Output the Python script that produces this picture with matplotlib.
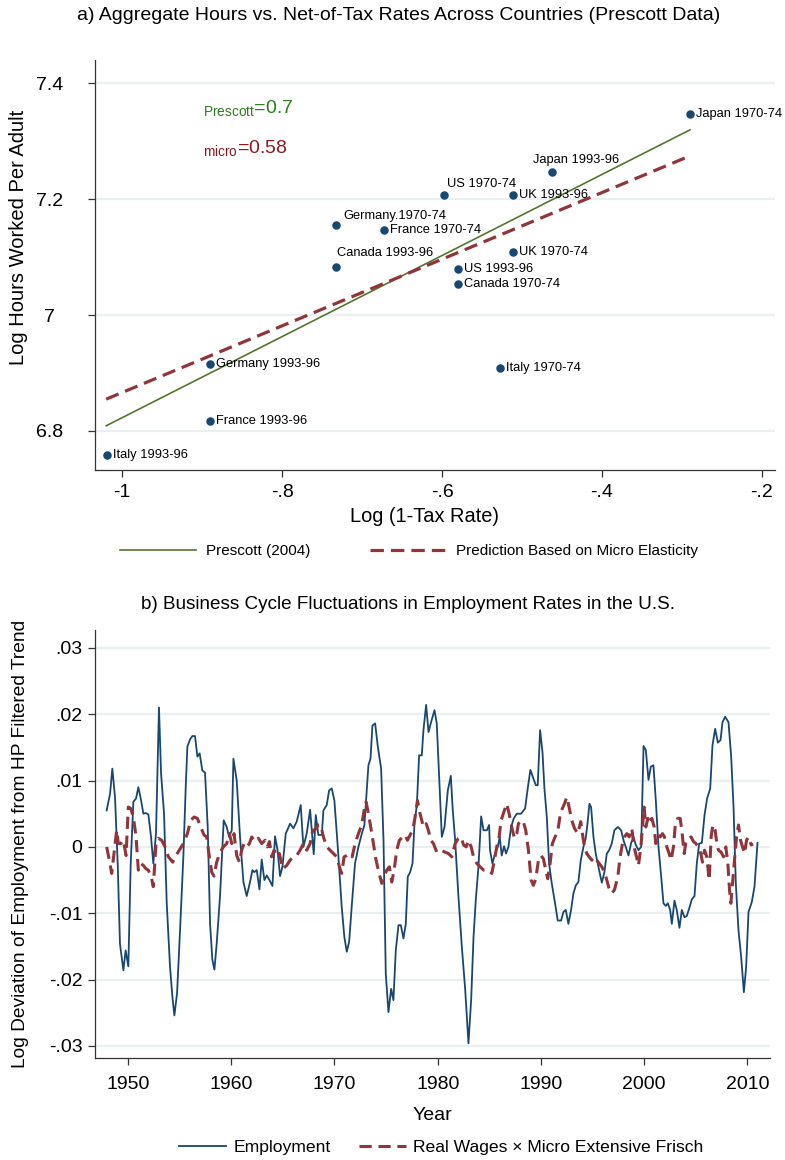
import matplotlib
matplotlib.use("Agg")
import matplotlib.pyplot as plt
import matplotlib.ticker as ticker

plt.rcParams["font.family"] = ["Liberation Sans", "DejaVu Sans"]

# ---- panel a: countries ----
country_labels = [
    "Japan 1970-74", "Japan 1993-96", "US 1970-74", "UK 1993-96",
    "Germany.1970-74", "France 1970-74", "Canada 1993-96", "UK 1970-74",
    "US 1993-96", "Canada 1970-74", "Germany 1993-96", "Italy 1970-74",
    "France 1993-96", "Italy 1993-96",
]
log_net_tax = [-0.290, -0.4625, -0.5975, -0.511, -0.7325, -0.6725, -0.7325,
               -0.511, -0.580, -0.580, -0.890, -0.5275, -0.890, -1.019]
log_hours = [7.347, 7.248, 7.207, 7.207, 7.156, 7.147, 7.084,
             7.109, 7.080, 7.053, 6.915, 6.908, 6.817, 6.759]

prescott_x = [-1.02, -0.29]
prescott_y = [6.809, 7.320]
micro_x = [-1.02, -0.29]
micro_y = [6.855, 7.275]

# ---- panel b: business cycle ----
emp_year = [
    1947.93, 1948.26, 1948.48, 1948.74, 1949.00, 1949.22, 1949.55, 1949.77, 1950.03, 1950.26,
    1950.52, 1950.78, 1951.00, 1951.23, 1951.49, 1951.71, 1951.97, 1952.23, 1952.45, 1952.71,
    1953.00, 1953.20, 1953.49, 1953.75, 1954.07, 1954.30, 1954.49, 1954.75, 1955.04, 1955.36,
    1955.59, 1955.75, 1956.01, 1956.23, 1956.49, 1956.72, 1956.94, 1957.20, 1957.46, 1957.72,
    1957.95, 1958.17, 1958.37, 1958.59, 1958.91, 1959.27, 1959.56, 1959.79, 1960.05, 1960.21,
    1960.53, 1960.85, 1961.18, 1961.50, 1961.82, 1962.05, 1962.24, 1962.47, 1962.73, 1962.95,
    1963.21, 1963.44, 1963.70, 1963.99, 1964.24, 1964.47, 1964.73, 1964.96, 1965.28, 1965.70,
    1966.02, 1966.34, 1966.73, 1966.99, 1967.31, 1967.64, 1967.86, 1967.99, 1968.19, 1968.44,
    1968.77, 1968.93, 1969.25, 1969.48, 1969.74, 1969.99, 1970.32, 1970.70, 1970.96, 1971.19,
    1971.42, 1971.67, 1971.99, 1972.32, 1972.65, 1972.90, 1973.13, 1973.29, 1973.49, 1973.68,
    1973.94, 1974.20, 1974.52, 1974.75, 1974.97, 1975.23, 1975.49, 1975.71, 1975.94, 1976.20,
    1976.43, 1976.68, 1976.91, 1977.10, 1977.33, 1977.56, 1977.75, 1977.98, 1978.20, 1978.46,
    1978.62, 1978.88, 1979.11, 1979.36, 1979.69, 1979.91, 1980.14, 1980.40, 1980.66, 1980.98,
    1981.27, 1981.46, 1981.69, 1982.01, 1982.34, 1982.66, 1982.98, 1983.24, 1983.47, 1983.69,
    1983.95, 1984.21, 1984.44, 1984.76, 1984.98, 1985.07, 1985.30, 1985.56, 1985.82, 1986.01,
    1986.20, 1986.43, 1986.62, 1986.85, 1987.11, 1987.37, 1987.66, 1988.08, 1988.47, 1988.72,
    1988.98, 1989.27, 1989.50, 1989.69, 1989.92, 1990.15, 1990.34, 1990.57, 1990.79, 1991.05,
    1991.37, 1991.63, 1991.95, 1992.18, 1992.41, 1992.66, 1992.92, 1993.15, 1993.38, 1993.63,
    1993.86, 1994.12, 1994.34, 1994.51, 1994.70, 1994.86, 1995.09, 1995.31, 1995.57, 1995.90,
    1996.15, 1996.38, 1996.61, 1996.86, 1997.12, 1997.45, 1997.77, 1998.00, 1998.22, 1998.48,
    1998.74, 1998.97, 1999.19, 1999.45, 1999.71, 1999.94, 2000.16, 2000.42, 2000.65, 2000.90,
    2001.13, 2001.39, 2001.65, 2001.87, 2002.10, 2002.29, 2002.52, 2002.68, 2002.94, 2003.17,
    2003.42, 2003.65, 2003.91, 2004.13, 2004.36, 2004.62, 2004.88, 2005.10, 2005.33, 2005.59,
    2005.85, 2006.10, 2006.40, 2006.62, 2006.88, 2007.14, 2007.40, 2007.59, 2007.85, 2008.17,
    2008.43, 2008.66, 2008.88, 2009.14, 2009.40, 2009.66, 2009.88, 2010.11, 2010.43, 2010.69,
    2010.98,
]
emp_dev = [
    0.0055, 0.0080, 0.0118, 0.0075, -0.0025, -0.0146, -0.0186, -0.0156, -0.0180, -0.0025,
    0.0068, 0.0073, 0.0090, 0.0073, 0.0050, 0.0051, 0.0049, 0.0015, -0.0025, 0.0020,
    0.0210, 0.0111, 0.0050, -0.0085, -0.0181, -0.0226, -0.0254, -0.0221, -0.0126, -0.0015,
    0.0090, 0.0151, 0.0162, 0.0167, 0.0167, 0.0136, 0.0141, 0.0115, 0.0112, 0.0030,
    -0.0116, -0.0170, -0.0185, -0.0146, -0.0075, 0.0040, 0.0030, 0.0015, 0.0025, 0.0133,
    0.0100, 0.0015, -0.0053, -0.0074, -0.0053, -0.0035, -0.0038, -0.0035, -0.0064, -0.0019,
    -0.0050, -0.0043, -0.0050, -0.0059, 0.0016, -0.0003, -0.0044, -0.0030, 0.0020, 0.0035,
    0.0028, 0.0038, 0.0063, 0.0000, 0.0020, 0.0056, 0.0015, -0.0011, 0.0048, 0.0018,
    0.0018, 0.0055, 0.0063, 0.0085, 0.0088, 0.0070, 0.0000, -0.0090, -0.0136, -0.0158,
    -0.0143, -0.0090, -0.0025, 0.0000, 0.0020, 0.0033, 0.0085, 0.0123, 0.0133, 0.0183,
    0.0186, 0.0151, 0.0118, 0.0010, -0.0191, -0.0249, -0.0214, -0.0231, -0.0156, -0.0118,
    -0.0118, -0.0138, -0.0116, -0.0045, -0.0038, -0.0025, 0.0035, 0.0063, 0.0138, 0.0138,
    0.0176, 0.0214, 0.0173, 0.0188, 0.0206, 0.0186, 0.0106, 0.0015, 0.0030, 0.0085,
    0.0107, 0.0055, 0.0010, -0.0075, -0.0151, -0.0214, -0.0296, -0.0231, -0.0136, -0.0080,
    -0.0030, 0.0046, 0.0025, 0.0025, 0.0033, -0.0005, -0.0025, -0.0010, 0.0000, 0.0015,
    -0.0013, 0.0001, -0.0010, 0.0000, 0.0030, 0.0043, 0.0050, 0.0050, 0.0058, 0.0088,
    0.0116, 0.0103, 0.0093, 0.0093, 0.0176, 0.0143, 0.0088, 0.0045, -0.0025, -0.0055,
    -0.0085, -0.0111, -0.0111, -0.0098, -0.0095, -0.0116, -0.0095, -0.0070, -0.0058, -0.0053,
    -0.0020, 0.0000, 0.0013, 0.0035, 0.0065, 0.0060, 0.0015, -0.0010, -0.0030, -0.0054,
    -0.0038, -0.0010, -0.0005, 0.0005, 0.0025, 0.0030, 0.0025, 0.0010, 0.0000, -0.0013,
    0.0006, 0.0015, 0.0003, -0.0005, 0.0000, 0.0152, 0.0146, 0.0101, 0.0121, 0.0123,
    0.0070, 0.0000, -0.0045, -0.0085, -0.0089, -0.0085, -0.0095, -0.0116, -0.0081, -0.0096,
    -0.0122, -0.0095, -0.0106, -0.0104, -0.0093, -0.0079, -0.0074, -0.0025, 0.0005, 0.0006,
    0.0048, 0.0073, 0.0088, 0.0153, 0.0178, 0.0157, 0.0161, 0.0188, 0.0196, 0.0188,
    0.0136, 0.0060, -0.0055, -0.0126, -0.0166, -0.0219, -0.0181, -0.0098, -0.0083, -0.0060,
    0.0006,
]

wage_year = [
    1947.93, 1948.19, 1948.42, 1948.64, 1948.90, 1949.06, 1949.29, 1949.55, 1949.81, 1950.03,
    1950.26, 1950.52, 1950.78, 1951.00, 1951.23, 1951.49, 1951.74, 1951.97, 1952.29, 1952.45,
    1952.71, 1952.94, 1953.26, 1953.59, 1953.91, 1954.33, 1954.65, 1954.97, 1955.36, 1955.75,
    1956.07, 1956.40, 1956.72, 1957.04, 1957.36, 1957.62, 1957.88, 1958.11, 1958.33, 1958.59,
    1958.92, 1959.24, 1959.56, 1959.82, 1960.05, 1960.27, 1960.53, 1960.79, 1961.01, 1961.24,
    1961.50, 1961.76, 1961.98, 1962.31, 1962.63, 1962.95, 1963.28, 1963.50, 1963.70, 1963.92,
    1964.15, 1964.41, 1964.66, 1964.99, 1965.37, 1965.70, 1966.02, 1966.34, 1966.67, 1966.99,
    1967.31, 1967.64, 1967.89, 1968.12, 1968.44, 1968.67, 1968.93, 1969.25, 1969.57, 1969.90,
    1970.22, 1970.48, 1970.70, 1970.93, 1971.19, 1971.45, 1971.71, 1972.00, 1972.32, 1972.64,
    1972.87, 1973.06, 1973.29, 1973.51, 1973.77, 1974.03, 1974.29, 1974.58, 1974.81, 1975.06,
    1975.32, 1975.55, 1975.78, 1976.03, 1976.29, 1976.61, 1976.84, 1977.07, 1977.33, 1977.58,
    1977.81, 1978.04, 1978.29, 1978.62, 1978.88, 1979.10, 1979.33, 1979.59, 1979.91, 1980.33,
    1980.72, 1981.04, 1981.37, 1981.69, 1982.01, 1982.27, 1982.50, 1982.76, 1982.98, 1983.24,
    1983.47, 1983.79, 1984.11, 1984.44, 1984.91, 1985.24, 1985.50, 1985.72, 1985.95, 1986.14,
    1986.46, 1986.69, 1986.92, 1987.17, 1987.43, 1987.66, 1987.82, 1988.08, 1988.30, 1988.53,
    1988.79, 1989.05, 1989.27, 1989.50, 1989.76, 1990.02, 1990.24, 1990.47, 1990.66, 1990.89,
    1991.11, 1991.37, 1991.63, 1991.86, 1992.08, 1992.28, 1992.50, 1992.73, 1992.99, 1993.25,
    1993.57, 1993.86, 1994.02, 1994.22, 1994.44, 1994.67, 1994.93, 1995.18, 1995.41, 1995.64,
    1995.90, 1996.15, 1996.38, 1996.61, 1996.86, 1997.12, 1997.45, 1997.67, 1997.90, 1998.09,
    1998.32, 1998.55, 1998.80, 1999.03, 1999.26, 1999.45, 1999.68, 1999.87, 2000.00, 2000.16,
    2000.36, 2000.58, 2000.74, 2000.97, 2001.13, 2001.32, 2001.55, 2001.78, 2001.97, 2002.20,
    2002.42, 2002.61, 2002.84, 2003.00, 2003.26, 2003.49, 2003.65, 2003.88, 2004.07, 2004.30,
    2004.55, 2004.78, 2005.01, 2005.27, 2005.49, 2005.65, 2005.85, 2006.07, 2006.30, 2006.49,
    2006.65, 2006.88, 2007.04, 2007.20, 2007.46, 2007.69, 2007.91, 2008.11, 2008.27, 2008.40,
    2008.56, 2008.75, 2008.95, 2009.14, 2009.34, 2009.53, 2009.72, 2009.92, 2010.11, 2010.37,
    2010.56,
]
wage_dev = [
    0.0000, -0.0020, -0.0040, -0.0010, 0.0025, 0.0005, 0.0005, 0.0010, -0.0013, 0.0060,
    0.0058, 0.0045, 0.0015, -0.0035, -0.0025, -0.0028, -0.0033, -0.0035, -0.0048, -0.0060,
    0.0005, 0.0013, 0.0010, 0.0000, -0.0015, -0.0023, -0.0013, -0.0005, 0.0005, 0.0020,
    0.0040, 0.0045, 0.0043, 0.0030, 0.0018, 0.0015, -0.0015, -0.0038, -0.0044, -0.0023,
    -0.0008, 0.0000, 0.0005, 0.0020, 0.0005, 0.0020, -0.0013, -0.0023, -0.0005, 0.0005,
    0.0000, 0.0005, 0.0015, 0.0008, 0.0013, 0.0005, 0.0010, 0.0000, 0.0008, -0.0015,
    -0.0005, -0.0015, -0.0010, -0.0033, -0.0028, -0.0020, -0.0015, -0.0013, -0.0005, 0.0005,
    -0.0005, 0.0005, 0.0025, 0.0026, 0.0033, 0.0033, 0.0015, 0.0000, -0.0005, -0.0010,
    -0.0015, -0.0030, -0.0040, -0.0015, -0.0013, -0.0010, -0.0015, 0.0005, 0.0020, 0.0033,
    0.0055, 0.0068, 0.0050, 0.0030, 0.0005, -0.0020, -0.0038, -0.0055, -0.0045, -0.0035,
    -0.0030, -0.0053, -0.0035, -0.0005, 0.0010, 0.0015, 0.0018, 0.0010, 0.0018, 0.0025,
    0.0045, 0.0070, 0.0050, 0.0030, 0.0035, 0.0025, 0.0010, 0.0005, -0.0008, -0.0005,
    -0.0008, -0.0010, -0.0015, 0.0005, 0.0013, 0.0015, 0.0003, 0.0000, 0.0010, 0.0000,
    -0.0015, -0.0025, -0.0030, -0.0035, -0.0035, -0.0040, -0.0020, 0.0000, 0.0015, 0.0040,
    0.0055, 0.0065, 0.0050, 0.0030, 0.0013, 0.0020, 0.0035, 0.0040, 0.0038, 0.0025,
    -0.0005, -0.0050, -0.0058, -0.0048, -0.0020, -0.0013, -0.0018, -0.0035, -0.0048, -0.0025,
    0.0005, 0.0015, 0.0023, 0.0048, 0.0058, 0.0065, 0.0075, 0.0060, 0.0040, 0.0028,
    0.0020, 0.0038, 0.0020, 0.0000, -0.0010, -0.0015, -0.0020, -0.0015, -0.0020, -0.0025,
    -0.0030, -0.0038, -0.0050, -0.0063, -0.0070, -0.0065, -0.0045, -0.0015, 0.0005, 0.0015,
    0.0020, 0.0015, 0.0028, 0.0000, -0.0015, -0.0028, 0.0000, 0.0035, 0.0060, 0.0030,
    0.0043, 0.0035, 0.0043, 0.0030, 0.0005, 0.0018, 0.0015, 0.0020, 0.0015, 0.0000,
    -0.0010, -0.0020, 0.0000, 0.0030, 0.0043, 0.0043, 0.0025, -0.0010, 0.0010, 0.0013,
    0.0015, 0.0008, 0.0005, 0.0000, -0.0010, -0.0023, -0.0005, -0.0015, -0.0050, 0.0015,
    0.0033, 0.0025, 0.0005, -0.0005, -0.0008, -0.0015, 0.0000, -0.0025, -0.0065, -0.0085,
    -0.0055, -0.0020, 0.0015, 0.0033, 0.0010, 0.0000, -0.0010, 0.0010, 0.0015, 0.0003,
    0.0004,
]

NAVY = "#1a476f"
MAROON = "#90353b"
GREEN = "#55752f"
GREEN_TXT = "#2e7d1f"
GRID = "#eaf0f2"
AXIS = "#333333"

# label offsets from each point in pixels (dx, dy); dy > 0 puts the label above
label_offsets = [(6, 0), (-19, 12), (3, 11), (6, 0), (7, 9), (6, 0), (1, 14),
                 (6, 0), (6, 0), (6, 0), (6, 0), (6, 0), (6, 0), (6, 0)]


def stata_fmt(v, _):
    if abs(v) < 1e-12:
        return "0"
    s = f"{v:g}"
    return s.replace("0.", ".") if abs(v) < 1 else s


def style_axes(ax, fs, pad):
    for side in ("top", "right"):
        ax.spines[side].set_visible(False)
    for side in ("left", "bottom"):
        ax.spines[side].set_color(AXIS)
        ax.spines[side].set_linewidth(0.9)
    ax.tick_params(colors=AXIS, labelcolor="black", labelsize=fs, length=5, width=0.9, pad=pad)
    ax.yaxis.grid(True, color=GRID, lw=1.6)
    ax.set_axisbelow(True)


fig = plt.figure(figsize=(7.85, 11.6), dpi=100)

# ---------------- panel a ----------------
ax1 = fig.add_axes([0.121, 0.595, 0.866, 0.353])
style_axes(ax1, 14, 5)
ax1.tick_params(axis="y", pad=28)
ax1.plot(prescott_x, prescott_y, color=GREEN, lw=1.2, label="Prescott (2004)")
ax1.plot(micro_x, micro_y, color=MAROON, lw=2.3, ls=(0, (4.2, 2.2)),
         label="Prediction Based on Micro Elasticity")
ax1.scatter(log_net_tax, log_hours, s=26, color=NAVY, zorder=3)
for lab, x, y, (dx, dy) in zip(country_labels, log_net_tax, log_hours, label_offsets):
    ax1.annotate(lab, (x, y), xytext=(dx * 0.72, dy * 0.72), textcoords="offset points",
                 ha="left", va="center", fontsize=9.3)
ax1.text(-0.899, 7.357, r"$_{\mathregular{Prescott}}$" + "=0.7", color=GREEN_TXT,
         fontsize=14, va="center")
ax1.text(-0.899, 7.288, r"$_{\mathregular{micro}}$" + "=0.58", color="#8b1a1f",
         fontsize=14, va="center")
ax1.set_xlim(-1.034, -0.184)
ax1.set_ylim(6.733, 7.44)
ax1.set_xticks([-1, -0.8, -0.6, -0.4, -0.2])
ax1.set_yticks([6.8, 7.0, 7.2, 7.4])
ax1.xaxis.set_major_formatter(ticker.FuncFormatter(stata_fmt))
ax1.yaxis.set_major_formatter(ticker.FuncFormatter(stata_fmt))
for lab in ax1.get_yticklabels():
    lab.set_horizontalalignment("center")
ax1.set_xlabel("Log (1-Tax Rate)", fontsize=14.4)
ax1.xaxis.set_label_coords(0.484, -0.09)
ax1.set_ylabel("Log Hours Worked Per Adult", fontsize=14.5)
ax1.yaxis.set_label_coords(-0.098, 0.568)
fig.text(0.508, 0.987, "a) Aggregate Hours vs. Net-of-Tax Rates Across Countries (Prescott Data)",
         ha="center", va="center", fontsize=14)
fig.legend(*ax1.get_legend_handles_labels(), loc="center", bbox_to_anchor=(0.521, 0.525),
           ncol=2, frameon=False, fontsize=11, handlelength=5.0, columnspacing=3.85,
           handletextpad=0.65)

# ---------------- panel b ----------------
ax2 = fig.add_axes([0.121, 0.088, 0.86, 0.369])
style_axes(ax2, 14, 8)
ax2.tick_params(axis="y", pad=4)
ax2.plot(emp_year, emp_dev, color=NAVY, lw=1.3, label="Employment")
ax2.plot(wage_year, wage_dev, color=MAROON, lw=2.2, ls=(0, (4.0, 2.2)),
         label="Real Wages \u00d7 Micro Extensive Frisch")
ax2.set_xlim(1946.8, 2012.2)
ax2.set_ylim(-0.0318, 0.0327)
ax2.set_xticks(range(1950, 2011, 10))
ax2.set_yticks([-0.03, -0.02, -0.01, 0, 0.01, 0.02, 0.03])
ax2.yaxis.set_major_formatter(ticker.FuncFormatter(stata_fmt))
ax2.set_xlabel("Year", fontsize=14)
ax2.xaxis.set_label_coords(0.5, -0.114)
ax2.set_ylabel("Log Deviation of Employment from HP Filtered Trend", fontsize=13.8)
ax2.yaxis.set_label_coords(-0.098, 0.5)
fig.text(0.52, 0.479, "b) Business Cycle Fluctuations in Employment Rates in the U.S.",
         ha="center", va="center", fontsize=13.6)
fig.legend(*ax2.get_legend_handles_labels(), loc="center", bbox_to_anchor=(0.562, 0.011),
           ncol=2, frameon=False, fontsize=12.6, handlelength=2.7, columnspacing=1.6,
           handletextpad=0.4)

fig.savefig("out.png", dpi=100)
